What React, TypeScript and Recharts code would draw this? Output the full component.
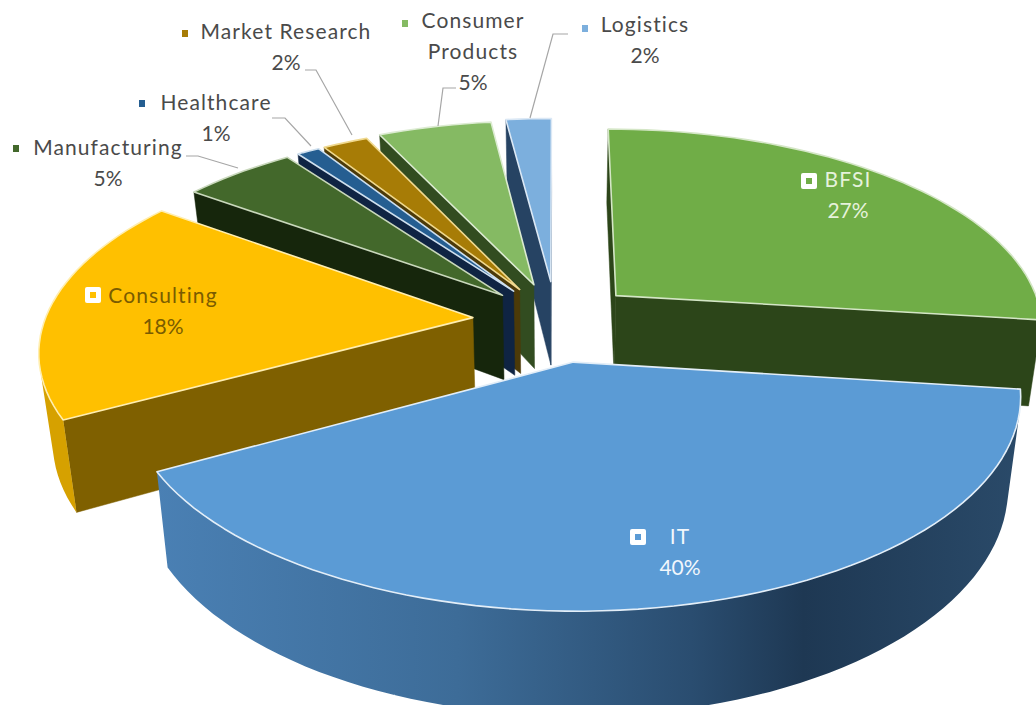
/**
 * Industry split - exploded 3D pie, drawn with a perspective shape on a Recharts Pie
 */

import { Pie, PieChart } from 'recharts';

// Painted in this order, so IT (the nearest slice) comes last
const SECTORS = ['BFSI', 'Logistics', 'Consumer Products', 'Market Research', 'Healthcare', 'Manufacturing', 'Consulting', 'IT'];
const SHARES = [27, 2, 5, 2, 1, 5, 18, 40];

const chartData = SECTORS.map((name, i) => ({ name, value: SHARES[i] }));

interface SliceStyle {
  top: string;
  edge: string;
  wall: string;
  rim: string;
  explode: number;
}

const SLICE_STYLES: Record<string, SliceStyle> = {
  BFSI: { top: '#70ad47', edge: '#d4e6c6', wall: '#2c4519', rim: '#2c4519', explode: 0.19 },
  Logistics: { top: '#7cafdd', edge: '#dbe8f5', wall: '#264363', rim: '#264363', explode: 0.2 },
  'Consumer Products': { top: '#85ba63', edge: '#dcebd2', wall: '#324c20', rim: '#324c20', explode: 0.19 },
  'Market Research': { top: '#a77c06', edge: '#f0d98f', wall: '#4c3a08', rim: '#4c3a08', explode: 0.18 },
  Healthcare: { top: '#255e91', edge: '#cfe0ef', wall: '#0f2443', rim: '#0f2443', explode: 0.18 },
  Manufacturing: { top: '#43682b', edge: '#c9d8bc', wall: '#16260c', rim: '#16260c', explode: 0.18 },
  Consulting: { top: '#ffc000', edge: '#ffeeb0', wall: '#7f6000', rim: '#d6a100', explode: 0.195 },
  IT: { top: '#5b9bd5', edge: '#e3eef8', wall: '#3f6f9f', rim: 'url(#itRim)', explode: 0.21 },
};

interface LabelLayout {
  lines: string[];
  x: number;
  y: number;
  color: string;
  markerX: number;
  markerY: number;
  boxed?: boolean;
  leader?: [number, number][];
}

const LABEL_LAYOUT: Record<string, LabelLayout> = {
  'Market Research': { lines: ['Market Research'], x: 286, y: 39, color: '#4a4a4a', markerX: 185, markerY: 33, leader: [[305, 70], [316, 70], [352, 135]] },
  'Consumer Products': { lines: ['Consumer', 'Products'], x: 473, y: 28, color: '#4a4a4a', markerX: 405, markerY: 23, leader: [[456, 88], [443, 88], [438, 126]] },
  Logistics: { lines: ['Logistics'], x: 645, y: 32, color: '#4a4a4a', markerX: 585, markerY: 28, leader: [[568, 34], [553, 34], [530, 118]] },
  Healthcare: { lines: ['Healthcare'], x: 216, y: 110, color: '#4a4a4a', markerX: 142, markerY: 103, leader: [[272, 118], [285, 118], [311, 146]] },
  Manufacturing: { lines: ['Manufacturing'], x: 108, y: 155, color: '#4a4a4a', markerX: 16, markerY: 148, leader: [[186, 156], [198, 156], [238, 168]] },
  BFSI: { lines: ['BFSI'], x: 848, y: 187, color: '#e6f2dc', markerX: 809, markerY: 181, boxed: true },
  Consulting: { lines: ['Consulting'], x: 163, y: 303, color: '#7a5c00', markerX: 93, markerY: 295, boxed: true },
  IT: { lines: ['IT'], x: 680, y: 544, color: '#f2f7fc', markerX: 638, markerY: 537, boxed: true },
};

const WIDTH = 1036;
const HEIGHT = 705;
const CENTER_X = 556;
const CENTER_Y = 320;

// Perspective of the tilted disc
const SCALE_X = 428;
const SCALE_Y = 198;
const TILT = 0.149;
const DEPTH = 86;
const BOTTOM_SQUEEZE = 0.973;

type Pt = [number, number];

const toPoint = (X: number, Y: number): Pt => {
  const d = 1 - TILT * Y;
  return [CENTER_X + (SCALE_X * X) / d, CENTER_Y + (SCALE_Y * Y) / d];
};

const toBottom = (X: number, Y: number): Pt => {
  const d = 1 - TILT * Y;
  const [x, y] = toPoint(X, Y);
  return [CENTER_X + (x - CENTER_X) * BOTTOM_SQUEEZE, y + DEPTH / d];
};

const poly = (pts: Pt[]) => pts.map((p, i) => `${i ? 'L' : 'M'}${p[0].toFixed(1)} ${p[1].toFixed(1)}`).join(' ') + ' Z';

// Negative signed area means the wall quad faces the viewer
const faces = (a: Pt, b: Pt, c: Pt, d: Pt) => {
  const q = [a, b, c, d];
  let area = 0;
  q.forEach((p, i) => {
    const n = q[(i + 1) % 4];
    area += p[0] * n[1] - n[0] * p[1];
  });
  return area < 0;
};

function Slice3D(props: any) {
  const { startAngle, endAngle, name } = props;
  const style = SLICE_STYLES[name];

  // recharts angles run counter-clockwise from 3 o'clock
  const rad = (a: number) => ((90 - a) * Math.PI) / 180;
  const from = rad(startAngle);
  const to = rad(endAngle);
  const mid = (from + to) / 2;
  const ox = style.explode * Math.sin(mid);
  const oy = -style.explode * Math.cos(mid);

  const steps = Math.max(4, Math.ceil(Math.abs(endAngle - startAngle) / 2));
  const arc: Pt[] = [];
  for (let i = 0; i <= steps; i++) {
    const t = to + ((from - to) * i) / steps;
    arc.push([ox + Math.sin(t), oy - Math.cos(t)]);
  }

  const topArc = arc.map((p) => toPoint(p[0], p[1]));
  const botArc = arc.map((p) => toBottom(p[0], p[1]));
  const apexTop = toPoint(ox, oy);
  const apexBot = toBottom(ox, oy);
  const last = arc.length - 1;

  const radialWalls: Pt[][] = [
    [apexTop, topArc[0], botArc[0], apexBot],
    [topArc[last], apexTop, apexBot, botArc[last]],
  ];

  // One path for the whole curved wall, so the strips leave no seams
  const rimPath = topArc
    .slice(0, -1)
    .map((p, i) => {
      const q: Pt[] = [p, topArc[i + 1], botArc[i + 1], botArc[i]];
      return faces(q[0], q[1], q[2], q[3]) ? poly(q) : '';
    })
    .join(' ');

  return (
    <g>
      <defs>
        <linearGradient id="itRim" gradientUnits="userSpaceOnUse" x1={155} y1={0} x2={1020} y2={0}>
          <stop offset="0%" stopColor="#4a80b4" />
          <stop offset="35%" stopColor="#3d6c98" />
          <stop offset="62%" stopColor="#2a4d70" />
          <stop offset="75%" stopColor="#1e3853" />
          <stop offset="100%" stopColor="#2a4a69" />
        </linearGradient>
      </defs>
      {radialWalls
        .filter((q) => faces(q[0], q[1], q[2], q[3]))
        .map((q, i) => (
          <path key={i} d={poly(q)} fill={style.wall} stroke={style.wall} strokeWidth={0.5} />
        ))}
      {rimPath && <path d={rimPath} fill={style.rim} />}
      <path d={poly([apexTop, ...topArc])} fill={style.top} stroke={style.edge} strokeWidth={1.6} strokeLinejoin="round" />
    </g>
  );
}

const renderLabel = (props: any) => {
  const { name, value } = props;
  const layout = LABEL_LAYOUT[name];
  const style = SLICE_STYLES[name];
  const lineGap = 31;
  return (
    <g key={name} style={{ fontFamily: 'Lato, "Open Sans", sans-serif', fontSize: 21 }}>
      {layout.leader && (
        <polyline points={layout.leader.map((p) => p.join(',')).join(' ')} fill="none" stroke="#a6a6a6" strokeWidth={1.2} />
      )}
      {layout.boxed ? (
        <>
          <rect x={layout.markerX - 8} y={layout.markerY - 8} width={16} height={16} rx={2} fill="#ffffff" />
          <rect x={layout.markerX - 3} y={layout.markerY - 3} width={6} height={6} fill={style.top} />
        </>
      ) : (
        <rect x={layout.markerX - 3} y={layout.markerY - 3} width={6} height={7} fill={style.top} />
      )}
      {layout.lines.map((line, i) => (
        <text key={line} x={layout.x} y={layout.y + i * lineGap} textAnchor="middle" fill={layout.color} letterSpacing={1.1}>
          {line}
        </text>
      ))}
      <text x={layout.x} y={layout.y + layout.lines.length * lineGap} textAnchor="middle" fill={layout.color}>
        {value}%
      </text>
    </g>
  );
};

export default function App() {
  return (
    <div style={{ position: 'absolute', left: 0, top: 0, width: WIDTH, height: HEIGHT, background: '#ffffff', overflow: 'hidden' }}>
      <PieChart width={WIDTH} height={HEIGHT} margin={{ top: 0, right: 0, bottom: 0, left: 0 }}>
        <Pie
          data={chartData}
          dataKey="value"
          nameKey="name"
          cx={CENTER_X}
          cy={CENTER_Y}
          outerRadius={SCALE_X}
          startAngle={-7.2}
          endAngle={352.8}
          stroke="none"
          shape={Slice3D}
          label={renderLabel}
          labelLine={false}
          isAnimationActive={false}
        />
      </PieChart>
    </div>
  );
}
